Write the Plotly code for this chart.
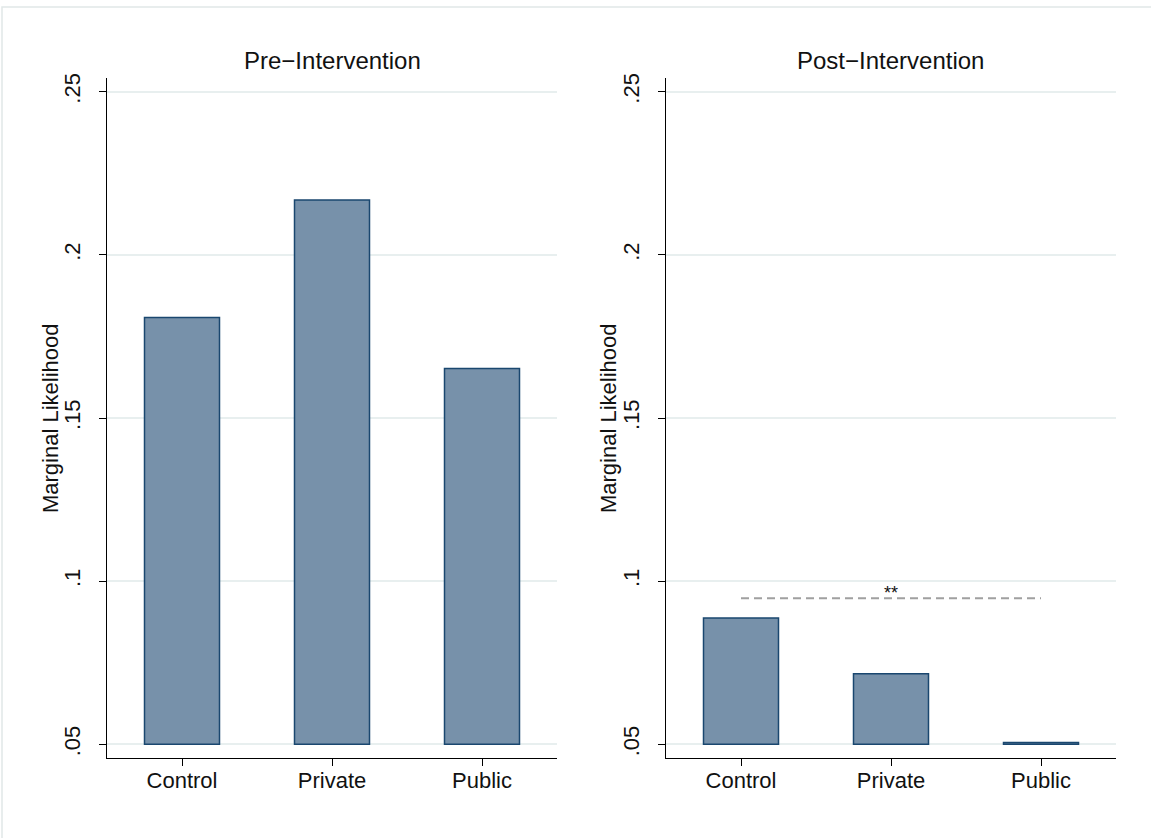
import plotly.graph_objects as go

# ---- data ----
categories = ["Control", "Private", "Public"]
pre_values = [0.1808, 0.2168, 0.1652]
post_values = [0.0887, 0.0716, 0.0506]
bar_base = 0.05
panel_titles = ["Pre\u2212Intervention", "Post\u2212Intervention"]
y_tick_vals = [0.05, 0.10, 0.15, 0.20, 0.25]
y_tick_text = [".05", ".1", ".15", ".2", ".25"]
y_title = "Marginal Likelihood"
sig_from, sig_to = "Control", "Public"
sig_y = 0.0948
sig_label = "**"

# ---- style ----
W, H = 1151, 838
FONT = "Liberation Sans, Arial, Helvetica, sans-serif"
FILL = "rgb(119,145,170)"
EDGE = "rgb(26,71,111)"
GRID = "rgb(232,239,239)"

def px_x(p):
    return p / W

def px_y(p):
    return 1 - p / H

fig = go.Figure()

for i, vals in enumerate([pre_values, post_values]):
    xa = "x" if i == 0 else "x2"
    ya = "y" if i == 0 else "y2"
    fig.add_trace(go.Bar(
        x=categories,
        y=[v - bar_base for v in vals],
        base=[bar_base] * len(vals),
        width=0.5,
        marker=dict(color=FILL, line=dict(color=EDGE, width=1.5)),
        xaxis=xa, yaxis=ya, showlegend=False,
    ))

fig.add_trace(go.Scatter(
    x=[sig_from, sig_to], y=[sig_y, sig_y], mode="lines",
    line=dict(color="rgb(160,160,160)", width=2, dash="8px,5px"),
    xaxis="x2", yaxis="y2", showlegend=False,
))

y_range = [0.0457, 0.2543]
x_domains = [[px_x(107), px_x(557)], [px_x(666), px_x(1116)]]
y_domain = [px_y(758), px_y(74)]

common_x = dict(
    type="category", range=[-0.5, 2.5], showline=True, linecolor="black",
    linewidth=1.2, ticks="outside", ticklen=7, tickcolor="black",
    tickfont=dict(family=FONT, size=22, color="#111"), showgrid=False,
    fixedrange=True, ticklabelstandoff=-5,
)
common_y = dict(
    range=y_range, tickvals=y_tick_vals, ticktext=y_tick_text, tickangle=-90,
    showline=True, linecolor="black", linewidth=1.2, ticks="outside",
    ticklen=7, tickcolor="black", showgrid=True, gridcolor=GRID, gridwidth=1.5,
    zeroline=False, tickfont=dict(family=FONT, size=22, color="#111"),
    ticklabelstandoff=10,
)

fig.update_layout(
    width=W, height=H, margin=dict(l=0, r=0, t=0, b=0),
    paper_bgcolor="white", plot_bgcolor="white",
    xaxis=dict(domain=x_domains[0], anchor="y", **common_x),
    xaxis2=dict(domain=x_domains[1], anchor="y2", **common_x),
    yaxis=dict(domain=y_domain, anchor="x", **common_y),
    yaxis2=dict(domain=y_domain, anchor="x2", **common_y),
    bargap=0.5,
)

for i, t in enumerate(panel_titles):
    fig.add_annotation(
        text=t, xref="paper", yref="paper",
        x=(x_domains[i][0] + x_domains[i][1]) / 2, y=px_y(57),
        xanchor="center", yanchor="middle", showarrow=False,
        font=dict(family=FONT, size=24, color="#111"),
    )

for cx in [50, 608]:
    fig.add_annotation(
        text=y_title, xref="paper", yref="paper",
        x=px_x(cx), y=(y_domain[0] + y_domain[1]) / 2,
        xanchor="center", yanchor="middle", textangle=-90, showarrow=False,
        font=dict(family=FONT, size=22, color="#111"),
    )

fig.add_annotation(
    text=sig_label, x=1, y=sig_y, xref="x2", yref="y2",
    xanchor="center", yanchor="bottom", showarrow=False, yshift=-7,
    font=dict(family=FONT, size=18, color="#111"),
)

fig.add_shape(type="rect", xref="paper", yref="paper",
              x0=px_x(2), x1=1.02, y0=-0.02, y1=px_y(3),
              line=dict(color="rgb(225,232,232)", width=1.5), fillcolor="rgba(0,0,0,0)")

fig.write_html(
    "out.html",
    config={"displayModeBar": False},
    post_script="document.body.style.margin='0';document.body.style.overflow='hidden';",
)
